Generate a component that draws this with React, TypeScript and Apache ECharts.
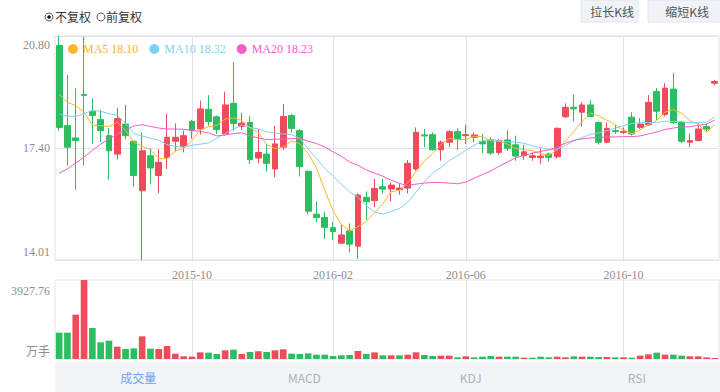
import React, { useEffect, useRef } from 'react';
import * as echarts from 'echarts';

const dates = [
  '2015-06-19','2015-06-26','2015-07-03','2015-07-10','2015-07-17','2015-07-24','2015-07-31','2015-08-07','2015-08-14','2015-08-21',
  '2015-08-28','2015-09-02','2015-09-11','2015-09-18','2015-09-25','2015-09-30','2015-10-09','2015-10-16','2015-10-23','2015-10-30',
  '2015-11-06','2015-11-13','2015-11-20','2015-11-27','2015-12-04','2015-12-11','2015-12-18','2015-12-25','2015-12-31','2016-01-08',
  '2016-01-15','2016-01-22','2016-01-29','2016-02-05','2016-02-19','2016-02-26','2016-03-04','2016-03-11','2016-03-18','2016-03-25',
  '2016-04-01','2016-04-08','2016-04-15','2016-04-22','2016-04-29','2016-05-06','2016-05-13','2016-05-20','2016-05-27','2016-06-03',
  '2016-06-08','2016-06-17','2016-06-24','2016-07-01','2016-07-08','2016-07-15','2016-07-22','2016-07-29','2016-08-05','2016-08-12',
  '2016-08-19','2016-08-26','2016-09-02','2016-09-09','2016-09-14','2016-09-23','2016-09-30','2016-10-14','2016-10-21','2016-10-28',
  '2016-11-04','2016-11-11','2016-11-18','2016-11-25','2016-12-02','2016-12-09','2016-12-16','2016-12-23','2016-12-30','2017-01-06'
];

const opens = [
  20.51,18.08,17.71,19.03,18.52,18.27,17.78,17.22,18.13,17.61,
  16.11,17.17,16.57,17.12,17.61,17.45,18.21,17.98,18.58,18.35,
  17.83,18.76,18.06,18.18,17.10,17.22,16.77,17.43,18.39,17.93,
  16.70,15.40,15.30,14.99,14.52,14.89,14.43,15.91,15.81,16.23,
  16.16,16.14,16.19,16.77,17.80,17.81,17.35,17.58,17.90,17.78,
  17.73,17.60,17.65,17.27,17.65,17.50,17.17,17.12,17.11,17.22,
  17.14,18.35,18.64,18.49,18.71,18.18,17.58,17.93,17.88,18.34,
  18.03,18.11,19.12,18.42,19.19,18.18,17.58,17.63,18.06,19.37
];
const closes = [
  18.03,17.43,17.63,19.00,18.39,17.93,17.32,18.30,17.78,16.57,
  17.32,16.80,16.97,17.73,17.73,17.78,17.93,18.59,18.21,17.96,
  18.71,18.15,18.16,17.05,17.27,16.94,17.53,18.36,18.00,16.84,
  15.49,15.30,15.00,14.87,14.77,14.49,15.98,15.78,16.18,16.16,
  16.28,16.19,16.94,17.88,17.77,17.35,17.58,17.90,17.68,17.81,
  17.80,17.53,17.25,17.63,17.40,17.16,17.29,17.17,17.16,17.12,
  18.00,18.64,18.59,18.71,18.36,17.58,18.00,17.90,17.91,17.83,
  18.13,18.79,18.52,19.22,18.18,17.61,17.63,17.98,17.98,19.42
];
const highs = [
  20.80,19.62,19.21,20.78,18.91,18.56,18.01,18.62,18.71,17.62,
  17.87,17.40,17.37,18.44,18.15,17.93,18.25,18.84,19.01,18.39,
  19.11,20.00,18.47,18.37,17.98,17.53,18.08,18.74,18.44,17.98,
  16.72,15.79,15.48,15.17,15.07,15.12,16.03,16.09,16.47,16.47,
  16.35,16.33,17.04,18.03,17.98,17.88,17.63,17.95,18.00,18.11,
  17.88,17.83,17.73,17.68,17.95,17.78,17.50,17.27,17.39,17.27,
  18.03,18.76,19.02,18.79,18.86,18.21,18.18,18.11,18.03,18.49,
  18.31,19.01,19.22,19.37,19.68,18.21,17.85,18.15,18.15,19.47
];
const lows = [
  17.93,16.87,16.14,16.87,17.53,17.58,16.45,17.06,17.67,16.23,
  14.01,16.31,16.04,16.77,17.30,17.27,17.68,17.81,18.08,17.83,
  17.78,17.93,17.95,16.92,16.94,16.69,16.52,17.35,17.87,16.54,
  15.40,15.15,14.64,14.62,14.50,14.23,14.05,15.22,15.61,16.03,
  15.79,15.99,16.03,16.72,17.43,17.32,17.02,17.43,17.35,17.53,
  17.58,17.25,17.20,17.20,17.32,17.02,17.04,17.02,16.92,17.00,
  17.09,18.31,18.21,18.05,18.34,17.51,17.55,17.83,17.83,17.78,
  17.98,18.08,18.25,18.36,18.13,17.55,17.43,17.61,17.91,19.30
];
const volumes = [
  1309,1309,2204,3927.76,1541,829,911,613,497,530,
  1127,514,497,646,265,133,116,331,315,249,
  431,464,249,348,381,348,431,481,265,249,
  282,215,215,149,182,199,398,249,331,182,
  182,182,215,331,199,149,166,166,83,133,
  83,116,149,116,116,116,66,66,116,83,
  116,83,133,116,116,99,99,83,83,66,
  166,232,315,215,215,166,133,133,83,50
];
const ma5 = [
  19.04,18.79,18.69,18.49,18.10,18.08,18.05,18.19,17.94,17.58,
  17.46,17.35,17.09,17.08,17.31,17.40,17.63,17.95,18.05,18.09,
  18.28,18.32,18.24,18.01,17.87,17.51,17.39,17.43,17.62,17.53,
  17.24,16.80,16.13,15.50,15.09,14.89,15.02,15.18,15.44,15.72,
  16.08,16.12,16.35,16.69,17.01,17.23,17.50,17.70,17.66,17.66,
  17.76,17.75,17.62,17.61,17.52,17.39,17.35,17.33,17.24,17.18,
  17.35,17.62,17.90,18.21,18.46,18.38,18.25,18.11,17.95,17.84,
  17.95,18.11,18.24,18.50,18.57,18.46,18.23,18.12,17.88,18.12
];
const ma10 = [
  18.44,18.37,18.36,18.45,18.54,18.52,18.44,18.40,18.15,17.84,
  17.77,17.70,17.64,17.51,17.45,17.43,17.49,17.52,17.56,17.70,
  17.84,17.98,18.10,18.03,17.98,17.90,17.86,17.83,17.81,17.70,
  17.38,17.09,16.78,16.56,16.31,16.07,15.91,15.65,15.47,15.40,
  15.48,15.57,15.76,16.07,16.37,16.65,16.81,17.02,17.17,17.34,
  17.49,17.63,17.66,17.63,17.59,17.58,17.55,17.47,17.42,17.35,
  17.37,17.48,17.62,17.72,17.82,17.86,17.93,18.01,18.08,18.15,
  18.17,18.18,18.17,18.22,18.21,18.21,18.17,18.18,18.19,18.35
];
const ma20 = [
  16.64,16.77,16.95,17.13,17.33,17.52,17.68,17.82,17.96,18.07,
  18.11,18.06,18.01,17.98,17.98,17.97,17.94,17.91,17.86,17.77,
  17.80,17.84,17.87,17.77,17.71,17.66,17.67,17.68,17.69,17.70,
  17.61,17.54,17.44,17.29,17.15,16.98,16.88,16.74,16.64,16.55,
  16.43,16.33,16.27,16.31,16.34,16.36,16.36,16.34,16.32,16.37,
  16.49,16.60,16.71,16.85,16.98,17.11,17.18,17.25,17.30,17.35,
  17.43,17.55,17.64,17.68,17.71,17.72,17.74,17.74,17.75,17.75,
  17.77,17.83,17.89,17.97,18.01,18.04,18.05,18.09,18.13,18.25
];

const maNames = ['MA5', 'MA10', 'MA20'];
const maLegendValues = ['18.10', '18.32', '18.23'];
const xTickIndex = [16, 33, 49, 68];
const priceTicks = [14.01, 17.405, 20.8];
const priceTickLabels = ['14.01', '17.40', '20.80'];
const volTicks = [0, 3927.76];
const volTickLabels = ['万手', '3927.76'];
const tabs = ['成交量', 'MACD', 'KDJ', 'RSI'];
const adjustOptions = ['不复权', '前复权'];
const zoomButtons = ['拉长K线', '缩短K线'];

const UP = '#ef4b5a';
const DOWN = '#2bbd5f';
const MA_COLORS = ['#fdb62f', '#80d0f3', '#fa5cc6'];
const GRID_LINE = '#dfe3e9';
const LABEL = '#8e8e8e';
const SERIF = 'serif';
const SANS = '"Noto Sans CJK SC", "Noto Sans", sans-serif';

function nearestIdx(arr: number[], v: number) {
  let best = 0;
  for (let i = 1; i < arr.length; i++) if (Math.abs(arr[i] - v) < Math.abs(arr[best] - v)) best = i;
  return best;
}

export default function App() {
  const ref = useRef<HTMLDivElement>(null);
  useEffect(() => {
    const chart = echarts.init(ref.current!, null, { renderer: 'svg' });
    const kData = opens.map((o, i) => [o, closes[i], lows[i], highs[i]]);
    const volData = volumes.map((v, i) => {
      const up = i === 0 ? closes[i] >= opens[i] : closes[i] >= closes[i - 1];
      return { value: v, itemStyle: { color: up ? UP : DOWN } };
    });
    const xInterval = (i: number) => xTickIndex.includes(i);

    const tabWidth = 665 / tabs.length;
    const graphic: any[] = [
      { type: 'rect', shape: { x: 55, y: 362, width: 665, height: 30 }, style: { fill: '#f2f5f7' }, silent: true },
      ...tabs.map((t, i) => ({
        type: 'text', x: 55 + tabWidth * (i + 0.5), y: 377,
        style: { text: t, fill: i === 0 ? '#6aa2ee' : '#aab1ba', font: `12px ${SANS}`, align: 'center', verticalAlign: 'middle' },
      })),
      // radios
      { type: 'circle', shape: { cx: 49, cy: 17, r: 4 }, style: { fill: '#fff', stroke: '#555', lineWidth: 1 } },
      { type: 'circle', shape: { cx: 49, cy: 17, r: 1.8 }, style: { fill: '#111' } },
      { type: 'text', x: 55, y: 16, style: { text: adjustOptions[0], fill: '#333', font: `12px ${SANS}`, verticalAlign: 'middle' } },
      { type: 'circle', shape: { cx: 101, cy: 17, r: 4 }, style: { fill: '#fff', stroke: '#555', lineWidth: 1 } },
      { type: 'text', x: 106, y: 16, style: { text: adjustOptions[1], fill: '#333', font: `12px ${SANS}`, verticalAlign: 'middle' } },
      // buttons
      { type: 'rect', shape: { x: 581, y: 0, width: 57, height: 22 }, style: { fill: '#eff2f6', stroke: '#e2e6eb', lineWidth: 1 } },
      { type: 'text', x: 612, y: 11, style: { text: zoomButtons[0], fill: '#555', font: `12px ${SANS}`, align: 'center', verticalAlign: 'middle' } },
      { type: 'rect', shape: { x: 648, y: 0, width: 74, height: 22 }, style: { fill: '#eff2f6', stroke: '#e2e6eb', lineWidth: 1 } },
      { type: 'text', x: 687, y: 11, style: { text: zoomButtons[1], fill: '#555', font: `12px ${SANS}`, align: 'center', verticalAlign: 'middle' } },
    ];

    const option: any = {
      animation: false,
      backgroundColor: '#fff',
      graphic,
      legend: {
        left: 63, top: 38, itemWidth: 10, itemHeight: 10, itemGap: 11, icon: 'circle',
        selectedMode: false,
        data: maNames.map((n, i) => ({ name: n, textStyle: { color: MA_COLORS[i] } })),
        formatter: (name: string) => `${name} ${maLegendValues[maNames.indexOf(name)]}`,
        textStyle: { fontFamily: SERIF, fontSize: 12 },
      },
      grid: [
        { left: 55, right: 1, top: 36, height: 224, show: true, borderColor: GRID_LINE, borderWidth: 1 },
        { left: 55, right: 1, top: 280, height: 79, show: true, borderColor: GRID_LINE, borderWidth: 1 },
      ],
      xAxis: [
        {
          type: 'category', gridIndex: 0, data: dates, boundaryGap: true,
          axisLine: { show: false }, axisTick: { show: false },
          axisLabel: {
            interval: xInterval, formatter: (v: string) => v.slice(0, 7),
            color: LABEL, fontFamily: SERIF, fontSize: 12, margin: 9,
          },
          splitLine: { show: true, interval: xInterval, alignWithLabel: true, lineStyle: { color: GRID_LINE, width: 1 } },
        },
        {
          type: 'category', gridIndex: 1, data: dates, boundaryGap: true,
          axisLine: { show: false }, axisTick: { show: false }, axisLabel: { show: false },
          splitLine: { show: true, interval: xInterval, alignWithLabel: true, lineStyle: { color: GRID_LINE, width: 1 } },
        },
      ],
      yAxis: [
        {
          type: 'value', gridIndex: 0, min: priceTicks[0], max: priceTicks[2], scale: true,
          axisLine: { show: false },
          axisTick: { show: false, customValues: priceTicks },
          axisLabel: {
            customValues: priceTicks, margin: 5, color: LABEL, fontFamily: SERIF, fontSize: 12,
            formatter: (v: number) => {
              const k = nearestIdx(priceTicks, v);
              const s = priceTickLabels[k];
              if (k === priceTicks.length - 1) return `{t|${s}}`;
              if (k === 0) return `{b|${s}}`;
              return s;
            },
            rich: { t: { padding: [18, 0, 0, 0] }, b: { padding: [0, 0, 16, 0] } },
          },
          splitLine: { show: true, lineStyle: { color: GRID_LINE, width: 1 } },
        },
        {
          type: 'value', gridIndex: 1, min: volTicks[0], max: volTicks[1],
          axisLine: { show: false },
          axisTick: { show: false, customValues: volTicks },
          axisLabel: {
            customValues: volTicks, margin: 5, color: LABEL, fontFamily: SERIF, fontSize: 12,
            formatter: (v: number) => {
              const k = nearestIdx(volTicks, v);
              const s = volTickLabels[k];
              return k === 1 ? `{t|${s}}` : `{b|${s}}`;
            },
            rich: { t: { padding: [22, 0, 0, 0] }, b: { padding: [0, 0, 18, 0], fontFamily: SANS } },
          },
          splitLine: { show: false },
        },
      ],
      series: [
        {
          name: 'K', type: 'candlestick', xAxisIndex: 0, yAxisIndex: 0, data: kData, barWidth: '76%',
          itemStyle: { color: UP, color0: DOWN, borderColor: UP, borderColor0: DOWN, borderWidth: 1 },
        },
        ...maNames.map((n, i) => ({
          name: n, type: 'line', xAxisIndex: 0, yAxisIndex: 0, data: [ma5, ma10, ma20][i],
          showSymbol: false, symbol: 'none', smooth: false,
          lineStyle: { color: MA_COLORS[i], width: 1 }, itemStyle: { color: MA_COLORS[i] },
        })),
        {
          name: '成交量', type: 'bar', xAxisIndex: 1, yAxisIndex: 1, data: volData, barWidth: '80%',
        },
      ],
    };
    chart.setOption(option);
    return () => chart.dispose();
  }, []);
  return <div ref={ref} style={{ position: 'fixed', left: 0, top: 0, width: 720, height: 392 }} />;
}
